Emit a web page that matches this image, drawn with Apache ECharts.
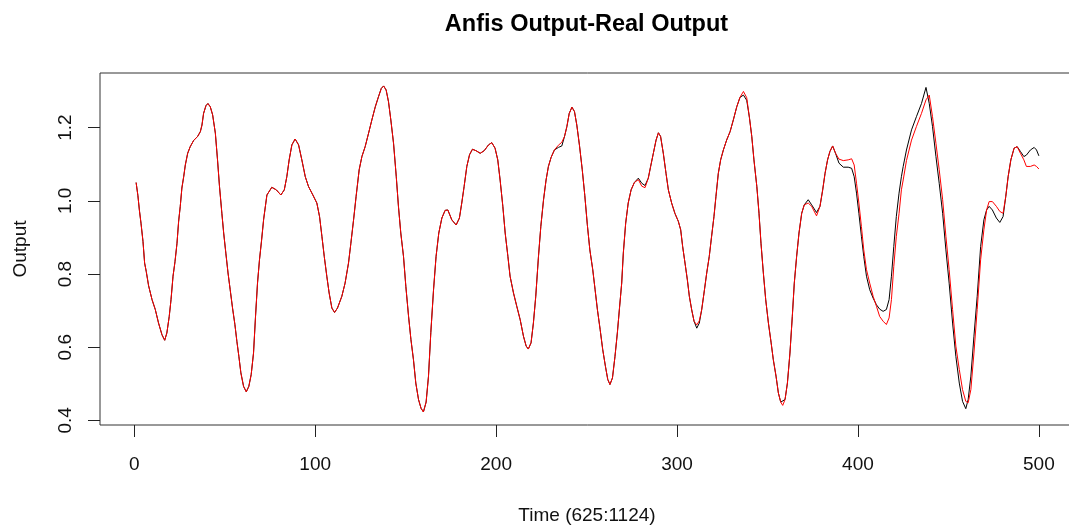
<!DOCTYPE html>
<html>
<head>
<meta charset="utf-8">
<script src="https://cdn.jsdelivr.net/npm/echarts@6/dist/echarts.min.js"></script>
<style>
html,body{margin:0;padding:0;background:#fff;overflow:hidden;width:1069px;height:531px;}
#chart{width:1090px;height:531px;}
</style>
</head>
<body>
<div id="chart"></div>
<script>
const time = [1,2,2.8,3.7,4.8,5.7,6.6,7.9,9.8,11.6,13.4,15.3,16.8,18.0,19.3,20.3,21.4,22.5,23.6,24.5,25.4,26.3,27.3,28.2,29.5,30.9,32.8,35.0,36.5,37.4,38.3,39.6,40.7,42.0,43.3,44.8,46.0,47.1,48.4,49.4,50.6,51.8,53.0,54.3,55.6,56.7,57.8,58.9,60.4,61.9,63.3,64.6,65.9,67.0,68.1,69.2,70.3,71.5,73.3,76.0,78.5,81.0,82.9,84.3,85.6,87.1,88.9,90.8,92.6,94.5,96.3,98.7,100.9,102.4,103.7,105.0,106.4,107.7,109.2,110.7,112.3,114.7,116.5,118.4,119.7,121.2,122.6,124.3,125.8,127.6,129.5,131.3,133.2,135.0,136.5,137.8,139.2,140.5,141.8,143.3,144.8,146.0,147.3,148.8,150.1,151.6,152.9,154.3,155.6,157.1,158.5,159.8,161.3,162.6,163.9,165.4,166.8,168.3,170.0,171.8,173.3,175.5,177.9,179.7,181.0,182.3,183.8,185.3,186.9,188.9,191.2,193.4,195.8,197.6,199.4,200.9,202.2,203.7,205.0,206.5,207.7,209.6,211.4,213.3,215.1,216.6,217.8,219.3,220.6,221.9,223.4,224.7,226.2,227.6,228.9,230.4,232.2,234.4,236.3,237.8,239.1,240.4,241.9,243.3,244.6,246.1,247.6,249.0,250.4,251.8,253.4,254.7,256.0,257.5,258.9,260.4,261.7,262.9,264.3,265.7,267.0,268.1,269.4,270.3,271.6,273.0,274.6,276.4,278.6,280.5,282.3,284.1,285.4,286.9,288.4,289.7,290.9,292.4,293.9,295.2,297.0,298.8,300.7,302.0,303.1,304.4,305.7,306.8,308.1,309.4,310.9,312.3,313.6,314.9,316.4,317.8,319.1,320.4,321.5,322.8,324.1,325.6,327.4,329.3,331.1,333.0,334.8,336.7,338.5,340.0,341.3,342.5,344.1,345.3,346.4,347.7,349.0,350.5,352.0,353.2,354.7,356.0,357.3,358.4,359.7,361.0,362.4,363.7,364.8,366.1,367.4,368.9,370.3,372.5,374.4,377.1,379.0,380.5,381.8,383.2,384.5,386.0,387.6,389.5,391.9,394.6,396.5,397.9,399.2,400.5,401.9,403.2,404.7,406.5,408.4,410.2,412.0,413.9,415.7,417.2,418.5,419.8,421.2,422.7,424.0,425.0,426.8,429.6,432.3,435.1,437.6,439.4,441.2,443.1,444.9,446.8,448.6,450.4,452.3,454.1,456.0,457.8,459.6,460.9,462.4,464.1,465.9,467.8,469.6,471.1,472.5,474.3,476.5,478.4,480.2,481.7,483.0,484.5,486.3,488.0,489.8,491.7,493.1,495.3,497.4,498.7,500];

const realOutput = [1.050,1.014,0.975,0.939,0.889,0.830,0.807,0.768,0.730,0.703,0.666,0.634,0.619,0.639,0.684,0.730,0.794,0.834,0.884,0.944,0.985,1.035,1.066,1.098,1.130,1.148,1.165,1.176,1.189,1.207,1.239,1.260,1.266,1.257,1.235,1.185,1.112,1.039,0.966,0.912,0.857,0.803,0.757,0.707,0.662,0.616,0.575,0.530,0.493,0.478,0.493,0.525,0.584,0.684,0.775,0.839,0.890,0.950,1.016,1.037,1.030,1.016,1.030,1.066,1.112,1.153,1.169,1.153,1.112,1.066,1.039,1.016,0.994,0.957,0.903,0.848,0.794,0.748,0.707,0.695,0.707,0.739,0.775,0.830,0.884,0.948,1.012,1.085,1.121,1.148,1.185,1.221,1.257,1.285,1.307,1.314,1.303,1.271,1.221,1.157,1.066,0.985,0.912,0.848,0.766,0.684,0.621,0.566,0.502,0.457,0.433,0.423,0.450,0.520,0.640,0.757,0.848,0.912,0.953,0.974,0.975,0.948,0.934,0.953,0.994,1.039,1.094,1.126,1.141,1.137,1.130,1.137,1.153,1.159,1.144,1.112,1.057,0.985,0.912,0.848,0.794,0.748,0.712,0.675,0.630,0.603,0.595,0.612,0.666,0.739,0.848,0.930,1.003,1.057,1.094,1.119,1.139,1.146,1.150,1.176,1.203,1.239,1.256,1.244,1.207,1.150,1.085,1.015,0.935,0.866,0.812,0.757,0.702,0.648,0.594,0.548,0.512,0.498,0.516,0.575,0.639,0.702,0.775,0.857,0.939,0.994,1.030,1.050,1.062,1.048,1.042,1.062,1.094,1.130,1.166,1.186,1.176,1.130,1.075,1.030,0.994,0.966,0.944,0.921,0.875,0.830,0.784,0.739,0.702,0.671,0.652,0.666,0.702,0.748,0.803,0.848,0.903,0.957,1.012,1.075,1.112,1.139,1.166,1.189,1.221,1.257,1.283,1.289,1.275,1.228,1.176,1.112,1.039,0.966,0.884,0.803,0.730,0.666,0.612,0.566,0.521,0.475,0.450,0.448,0.457,0.502,0.584,0.684,0.775,0.848,0.912,0.966,0.989,1.003,0.989,0.968,0.985,1.030,1.075,1.112,1.135,1.150,1.130,1.103,1.092,1.092,1.089,1.066,1.021,0.966,0.903,0.848,0.794,0.757,0.734,0.716,0.704,0.698,0.703,0.730,0.794,0.875,0.957,1.021,1.066,1.094,1.139,1.194,1.230,1.266,1.310,1.266,1.203,1.121,1.048,0.966,0.866,0.775,0.666,0.575,0.502,0.452,0.432,0.457,0.521,0.630,0.739,0.875,0.948,0.975,0.985,0.975,0.953,0.941,0.957,1.012,1.066,1.112,1.144,1.148,1.135,1.121,1.125,1.139,1.146,1.139,1.123];

const anfisOutput = [1.050,1.014,0.975,0.939,0.889,0.830,0.807,0.768,0.730,0.703,0.666,0.634,0.619,0.639,0.684,0.730,0.794,0.834,0.884,0.944,0.985,1.035,1.066,1.098,1.130,1.148,1.165,1.176,1.189,1.207,1.239,1.260,1.266,1.257,1.235,1.185,1.112,1.039,0.966,0.912,0.857,0.803,0.757,0.707,0.662,0.616,0.575,0.530,0.493,0.478,0.493,0.525,0.584,0.684,0.775,0.839,0.890,0.950,1.016,1.037,1.030,1.016,1.030,1.066,1.112,1.153,1.169,1.153,1.112,1.066,1.039,1.016,0.994,0.957,0.903,0.848,0.794,0.748,0.707,0.695,0.707,0.739,0.775,0.830,0.884,0.948,1.012,1.085,1.121,1.148,1.185,1.221,1.257,1.285,1.307,1.314,1.303,1.271,1.221,1.157,1.066,0.985,0.912,0.848,0.766,0.684,0.621,0.566,0.502,0.457,0.433,0.423,0.450,0.520,0.640,0.757,0.848,0.912,0.953,0.974,0.975,0.948,0.934,0.953,0.994,1.039,1.094,1.126,1.141,1.137,1.130,1.137,1.153,1.159,1.144,1.112,1.057,0.985,0.912,0.848,0.794,0.748,0.712,0.675,0.630,0.603,0.595,0.612,0.666,0.739,0.848,0.930,1.003,1.057,1.094,1.119,1.139,1.152,1.160,1.176,1.203,1.239,1.256,1.244,1.207,1.150,1.085,1.015,0.935,0.866,0.812,0.757,0.702,0.648,0.594,0.548,0.512,0.498,0.516,0.575,0.639,0.702,0.775,0.857,0.939,0.994,1.030,1.050,1.058,1.040,1.036,1.062,1.094,1.130,1.166,1.186,1.176,1.130,1.075,1.030,0.994,0.966,0.944,0.921,0.875,0.830,0.784,0.739,0.702,0.671,0.661,0.672,0.702,0.748,0.803,0.848,0.903,0.957,1.012,1.075,1.112,1.139,1.166,1.189,1.221,1.257,1.283,1.299,1.282,1.228,1.176,1.112,1.039,0.966,0.884,0.803,0.730,0.666,0.612,0.566,0.521,0.475,0.450,0.441,0.457,0.502,0.584,0.684,0.775,0.848,0.912,0.966,0.989,0.994,0.985,0.959,0.985,1.030,1.075,1.112,1.135,1.150,1.130,1.114,1.110,1.112,1.115,1.098,1.048,0.994,0.930,0.866,0.812,0.775,0.739,0.712,0.684,0.671,0.662,0.680,0.730,0.821,0.903,0.965,1.030,1.057,1.110,1.166,1.203,1.239,1.276,1.289,1.230,1.157,1.085,1.003,0.903,0.812,0.703,0.603,0.539,0.484,0.452,0.448,0.484,0.584,0.703,0.839,0.921,0.975,0.998,0.998,0.985,0.971,0.966,1.012,1.066,1.112,1.144,1.148,1.130,1.112,1.094,1.094,1.098,1.094,1.087];

const xTicks = [0, 100, 200, 300, 400, 500];
const yTicks = [0.4, 0.6, 0.8, 1.0, 1.2];

const titleText = 'Anfis Output-Real Output';
const xTitle = 'Time (625:1124)';
const yTitle = 'Output';

const FONT = '"Liberation Sans", Arial, Helvetica, sans-serif';

const realData = time.map((t, i) => [t, realOutput[i]]);
const anfisData = time.map((t, i) => [t, anfisOutput[i]]);

const chart = echarts.init(document.getElementById('chart'), null, {renderer: 'canvas'});
chart.setOption({
  animation: false,
  backgroundColor: '#ffffff',
  grid: {
    left: 100, top: 73, width: 975, height: 352,
    show: true, borderColor: '#333333', borderWidth: 1, backgroundColor: 'transparent',
    containLabel: false
  },
  xAxis: {
    type: 'value',
    min: -18.96, max: 519.96,
    axisLine: {show: false, onZero: false},
    splitLine: {show: false},
    axisTick: {show: true, inside: false, length: 12, customValues: xTicks, lineStyle: {color: '#222', width: 1}},
    axisLabel: {show: true, customValues: xTicks, margin: 30, color: '#111', fontFamily: FONT, fontSize: 19,
      formatter: v => String(v)}
  },
  yAxis: {
    type: 'value',
    min: 0.3874, max: 1.3494,
    axisLine: {show: false, onZero: false},
    splitLine: {show: false},
    axisTick: {show: true, inside: false, length: 12, customValues: yTicks, lineStyle: {color: '#222', width: 1}},
    axisLabel: {show: true, customValues: yTicks, rotate: 90, margin: 25, color: '#111', fontFamily: FONT, fontSize: 19,
      formatter: v => Number(v).toFixed(1)}
  },
  graphic: [
    {type: 'text', x: 586.5, y: 24.5, silent: true,
      style: {text: titleText, font: 'bold 23.5px ' + FONT, fill: '#000', align: 'center', verticalAlign: 'middle', textAlign: 'center', textVerticalAlign: 'middle'}},
    {type: 'text', x: 587, y: 516, silent: true,
      style: {text: xTitle, font: '19px ' + FONT, fill: '#111', align: 'center', verticalAlign: 'middle', textAlign: 'center', textVerticalAlign: 'middle'}},
    {type: 'text', x: 20.5, y: 249, rotation: Math.PI / 2, silent: true,
      style: {text: yTitle, font: '19px ' + FONT, fill: '#111', align: 'center', verticalAlign: 'middle', textAlign: 'center', textVerticalAlign: 'middle'}}
  ],
  series: [
    {name: 'Real Output', type: 'line', data: realData, showSymbol: false, symbol: 'none', smooth: false,
      lineStyle: {color: '#000000', width: 1}, clip: true, z: 2},
    {name: 'Anfis Output', type: 'line', data: anfisData, showSymbol: false, symbol: 'none', smooth: false,
      lineStyle: {color: '#ff0000', width: 1}, clip: true, z: 3}
  ]
});
</script>
</body>
</html>
